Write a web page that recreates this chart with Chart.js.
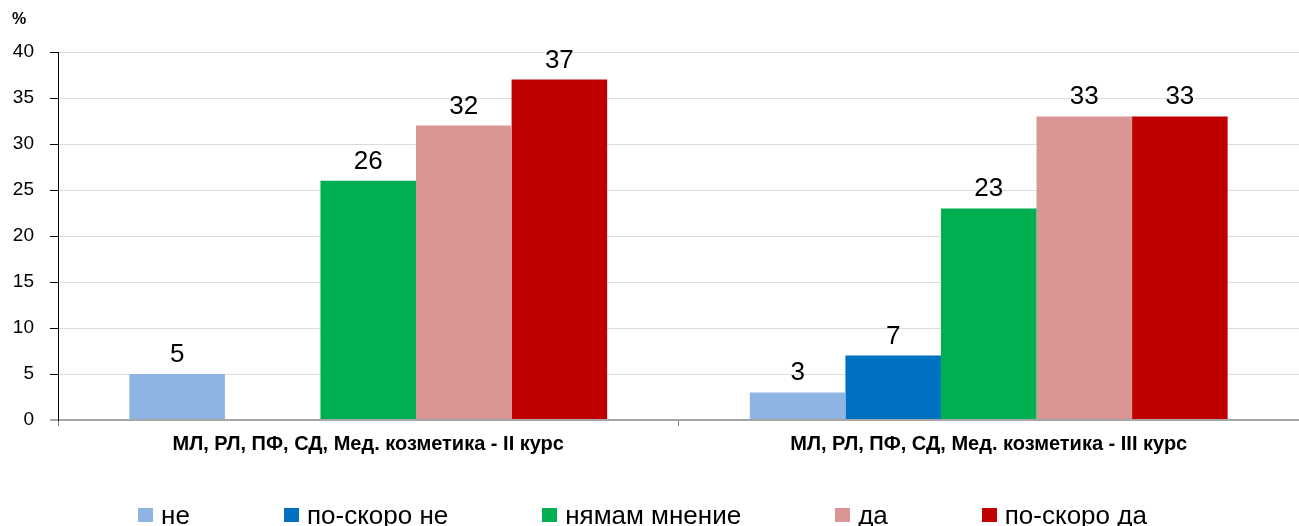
<!DOCTYPE html>
<html>
<head>
<meta charset="utf-8">
<script src="https://cdn.jsdelivr.net/npm/chart.js@4.4.0/dist/chart.umd.min.js"></script>
<style>
  html, body { margin: 0; padding: 0; background: #fff; }
  #wrap { position: relative; width: 1299px; height: 526px; }
  #legend {
    position: absolute; left: 0; top: 500px; width: 1285px; height: 30px;
    display: flex; justify-content: center; align-items: center; gap: 94px;
    font-family: "Liberation Sans", Arial, sans-serif; font-size: 26px; color: #000;
  }
  #legend span.item { display: flex; align-items: center; white-space: nowrap; }
  #legend span.box { display: inline-block; width: 15px; height: 14px; margin-right: 8px; }
</style>
</head>
<body>
<div id="wrap">
  <canvas id="surveyChart" width="1299" height="526"></canvas>
  <div id="legend"></div>
</div>
<script>
// categories and answers
const categories = [
  "МЛ, РЛ, ПФ, СД, Мед. козметика - II курс",
  "МЛ, РЛ, ПФ, СД, Мед. козметика - III курс"
];
const seriesNames = ["не", "по-скоро не", "нямам мнение", "да", "по-скоро да"];
const seriesColors = ["#8EB4E3", "#0070C0", "#00B050", "#D99694", "#C00000"];

// values in %
const ne = [5, 3];
const poSkoroNe = [null, 7];
const nyamamMnenie = [26, 23];
const da = [32, 33];
const poSkoroDa = [37, 33];

const yTicks = [0, 5, 10, 15, 20, 25, 30, 35, 40];

const seriesValues = [ne, poSkoroNe, nyamamMnenie, da, poSkoroDa];
const FONT = "'Liberation Sans', Arial, sans-serif";

// value labels above the bars
const valueLabels = {
  id: "valueLabels",
  afterDatasetsDraw(chart) {
    const ctx = chart.ctx;
    ctx.save();
    ctx.font = "26px " + FONT;
    ctx.fillStyle = "#000";
    ctx.textAlign = "center";
    ctx.textBaseline = "alphabetic";
    chart.data.datasets.forEach(function (ds, i) {
      const meta = chart.getDatasetMeta(i);
      meta.data.forEach(function (bar, j) {
        const v = ds.data[j];
        if (v === null || v === undefined) return;
        ctx.fillText(String(v), bar.x, bar.y - 12);
      });
    });
    ctx.restore();
  }
};

// "%" unit in top left corner
const unitLabel = {
  id: "unitLabel",
  afterDraw(chart) {
    const ctx = chart.ctx;
    ctx.save();
    ctx.font = "bold 16px " + FONT;
    ctx.fillStyle = "#000";
    ctx.textAlign = "left";
    ctx.textBaseline = "alphabetic";
    ctx.fillText("%", 12, 24);
    ctx.restore();
  }
};

const ctx = document.getElementById("surveyChart").getContext("2d");

new Chart(ctx, {
  type: "bar",
  data: {
    labels: categories,
    datasets: seriesNames.map(function (name, i) {
      return {
        label: name,
        data: seriesValues[i],
        backgroundColor: seriesColors[i],
        borderWidth: 0,
        categoryPercentage: 0.77,
        barPercentage: 1.0
      };
    })
  },
  options: {
    responsive: false,
    animation: false,
    layout: { padding: { top: 52, right: 0, bottom: 66, left: 0 } },
    plugins: {
      legend: { display: false },
      tooltip: { enabled: false }
    },
    scales: {
      x: {
        grid: {
          display: true,
          offset: true,
          drawOnChartArea: false,
          drawTicks: true,
          tickLength: 6,
          color: "#808080"
        },
        border: { display: true, color: "#a6a6a6", width: 2 },
        ticks: {
          color: "#000",
          padding: 6,
          font: { family: FONT, size: 20, weight: "bold" }
        },
        afterFit(scale) { scale.height = 40; }
      },
      y: {
        min: 0,
        max: 40,
        afterBuildTicks(scale) {
          scale.ticks = yTicks.map(function (v) { return { value: v }; });
        },
        grid: {
          color: function (c) { return c.tick && c.tick.value === 0 ? "#a6a6a6" : "#dddddd"; },
          lineWidth: function (c) { return c.tick && c.tick.value === 0 ? 2 : 1; },
          tickColor: function (c) { return c.tick && c.tick.value === 0 ? "#a6a6a6" : "#000"; },
          tickLength: 8
        },
        border: { display: true, color: "#000", width: 1 },
        ticks: {
          color: "#000",
          padding: 16,
          font: { family: FONT, size: 19 }
        },
        afterFit(scale) { scale.width = 58; }
      }
    }
  },
  plugins: [valueLabels, unitLabel]
});

// legend
const legend = document.getElementById("legend");
seriesNames.forEach(function (name, i) {
  const item = document.createElement("span");
  item.className = "item";
  const box = document.createElement("span");
  box.className = "box";
  box.style.background = seriesColors[i];
  const txt = document.createElement("span");
  txt.textContent = name;
  item.appendChild(box);
  item.appendChild(txt);
  legend.appendChild(item);
});
</script>
</body>
</html>
